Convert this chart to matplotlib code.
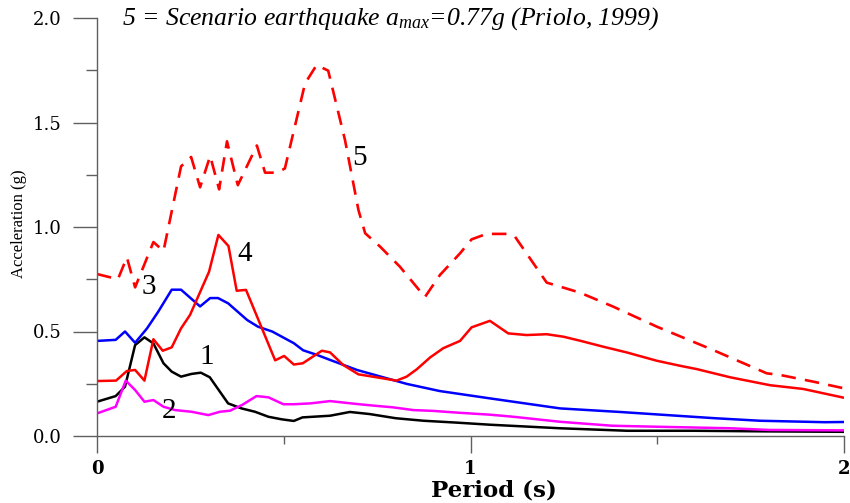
import matplotlib
matplotlib.use("Agg")
import matplotlib.pyplot as plt

plt.rcParams['mathtext.fontset'] = 'custom'
plt.rcParams['mathtext.rm'] = 'Liberation Serif'
plt.rcParams['mathtext.it'] = 'Liberation Serif:italic'

# curve 1 (black)
x1 = [0, 0.05, 0.075, 0.102, 0.127, 0.151, 0.178, 0.20, 0.225, 0.253, 0.278, 0.302, 0.351, 0.387,
      0.423, 0.459, 0.494, 0.527, 0.55, 0.624, 0.677, 0.73, 0.80, 0.874, 0.963, 1.052, 1.24, 1.42,
      1.60, 1.80, 2.0]
y1 = [0.164, 0.191, 0.236, 0.435, 0.472, 0.443, 0.348, 0.308, 0.284, 0.297, 0.303, 0.281, 0.156, 0.132,
      0.116, 0.092, 0.08, 0.072, 0.089, 0.097, 0.115, 0.105, 0.085, 0.073, 0.064, 0.054, 0.037, 0.025,
      0.025, 0.022, 0.02]

# curve 2 (magenta)
x2 = [0, 0.05, 0.077, 0.102, 0.127, 0.151, 0.178, 0.209, 0.253, 0.298, 0.329, 0.356, 0.388, 0.427,
      0.459, 0.499, 0.527, 0.571, 0.624, 0.696, 0.749, 0.793, 0.847, 0.901, 0.963, 1.052, 1.115, 1.24,
      1.38, 1.56, 1.695, 1.80, 2.0]
y2 = [0.108, 0.14, 0.265, 0.22, 0.164, 0.172, 0.14, 0.124, 0.116, 0.10, 0.116, 0.121, 0.148, 0.191,
      0.185, 0.152, 0.152, 0.156, 0.167, 0.153, 0.144, 0.137, 0.124, 0.12, 0.112, 0.102, 0.092, 0.068,
      0.049, 0.042, 0.037, 0.029, 0.027]

# curve 3 (blue)
x3 = [0, 0.05, 0.075, 0.102, 0.134, 0.164, 0.20, 0.225, 0.276, 0.303, 0.324, 0.351, 0.402, 0.431,
      0.469, 0.527, 0.552, 0.589, 0.624, 0.696, 0.776, 0.83, 0.918, 1.052, 1.24, 1.40, 1.561, 1.655,
      1.775, 1.949, 2.0]
y3 = [0.455, 0.46, 0.50, 0.446, 0.515, 0.595, 0.70, 0.70, 0.62, 0.66, 0.66, 0.635, 0.555, 0.523,
      0.50, 0.444, 0.41, 0.388, 0.364, 0.316, 0.276, 0.249, 0.215, 0.18, 0.132, 0.115, 0.096, 0.085,
      0.073, 0.066, 0.067]

# curve 4 (red)
x4 = [0, 0.051, 0.08, 0.102, 0.127, 0.151, 0.176, 0.20, 0.225, 0.249, 0.30, 0.325, 0.352, 0.374,
      0.399, 0.477, 0.501, 0.527, 0.551, 0.602, 0.624, 0.659, 0.70, 0.731, 0.802, 0.829, 0.856, 0.892,
      0.927, 0.972, 1.003, 1.052, 1.101, 1.15, 1.204, 1.249, 1.293, 1.356, 1.418, 1.499, 1.561, 1.606,
      1.695, 1.802, 1.891, 2.0]
y4 = [0.263, 0.265, 0.311, 0.316, 0.265, 0.463, 0.408, 0.424, 0.515, 0.579, 0.786, 0.962, 0.909, 0.695,
      0.699, 0.362, 0.383, 0.342, 0.348, 0.408, 0.40, 0.34, 0.295, 0.286, 0.265, 0.284, 0.319, 0.376,
      0.42, 0.455, 0.52, 0.551, 0.491, 0.483, 0.487, 0.475, 0.456, 0.427, 0.40, 0.36, 0.336, 0.32,
      0.281, 0.243, 0.225, 0.183]

# curve 5 (scenario earthquake, dashed)
x5 = [0, 0.056, 0.08, 0.102, 0.151, 0.178, 0.225, 0.252, 0.276, 0.303, 0.327, 0.348, 0.377, 0.428,
      0.45, 0.482, 0.503, 0.557, 0.588, 0.619, 0.664, 0.70, 0.718, 0.758, 0.811, 0.878, 0.918, 0.972,
      1.003, 1.043, 1.097, 1.119, 1.204, 1.293, 1.382, 1.499, 1.65, 1.793, 1.829, 1.918, 2.0]
y5 = [0.775, 0.75, 0.855, 0.711, 0.928, 0.885, 1.29, 1.335, 1.19, 1.34, 1.18, 1.41, 1.20, 1.39,
      1.26, 1.26, 1.28, 1.687, 1.775, 1.748, 1.416, 1.081, 0.97, 0.906, 0.81, 0.665, 0.77, 0.874,
      0.941, 0.967, 0.967, 0.954, 0.734, 0.686, 0.619, 0.523, 0.411, 0.30, 0.292, 0.26, 0.228]

curve_labels = ['1', '2', '3', '4', '5']
label_pos = [(0.295, 0.378), (0.193, 0.12), (0.139, 0.713), (0.396, 0.871), (0.704, 1.33)]

fig = plt.figure(figsize=(8.5, 5.03), dpi=100)
ax = fig.add_axes([97/850, 67/503, 747/850, 418/503])

ax.plot(x1, y1, color='black', lw=1.8)
ax.plot(x2, y2, color='#ff00ff', lw=1.8)
ax.plot(x3, y3, color='#0000ff', lw=1.8)
ax.plot(x4, y4, color='#ff0000', lw=1.8)
ax.plot(x5, y5, color='#ff0000', lw=1.9, dashes=(5.5, 3.5))

for lab, (lx, ly) in zip(curve_labels, label_pos):
    ax.text(lx, ly, lab, fontsize=21, family='Liberation Serif', ha='center', va='center')

ax.text(0.067, 1.967, r"5 = Scenario earthquake $a_{max}$=0.77g (Priolo, 1999)",
        fontsize=18.5, family='Liberation Serif', style='italic', ha='left', va='baseline')

ax.set_xlim(0, 2)
ax.set_ylim(0, 2.0)
ax.spines['top'].set_visible(False)
ax.spines['right'].set_visible(False)
for s in ['left', 'bottom']:
    ax.spines[s].set_color('#606060')
    ax.spines[s].set_linewidth(1.0)

ax.set_xticks([0, 1, 2])
ax.set_xticklabels(['0', '1', '2'])
ax.set_xticks([0.5, 1.5], minor=True)
ax.set_yticks([0, 0.5, 1.0, 1.5, 2.0])
ax.set_yticklabels(['0.0', '0.5', '1.0', '1.5', '2.0'])
ax.set_yticks([0.25, 0.75, 1.25, 1.75], minor=True)
ax.tick_params(axis='x', which='major', direction='out', length=12.2, width=1.0, color='#606060', pad=5)
ax.tick_params(axis='x', which='minor', direction='out', length=5.8, width=1.0, color='#606060')
ax.tick_params(axis='y', which='major', direction='out', length=17.3, width=1.0, color='#606060', pad=8)
ax.tick_params(axis='y', which='minor', direction='out', length=7.9, width=1.0, color='#606060')
for t in ax.get_yticklabels():
    t.set_fontfamily('DejaVu Serif')
    t.set_fontsize(13)
for t in ax.get_xticklabels():
    t.set_fontfamily('DejaVu Serif')
    t.set_fontsize(13)
    t.set_fontweight('bold')

fig.text(494/850, (503-491)/503, 'Period (s)', fontsize=16.5, family='DejaVu Serif', weight='bold',
         ha='center', va='center')
fig.text(19/850, (503-224)/503, 'Acceleration (g)', fontsize=12, family='Liberation Serif',
         rotation=90, ha='center', va='center')

fig.savefig('out.png', dpi=100)
